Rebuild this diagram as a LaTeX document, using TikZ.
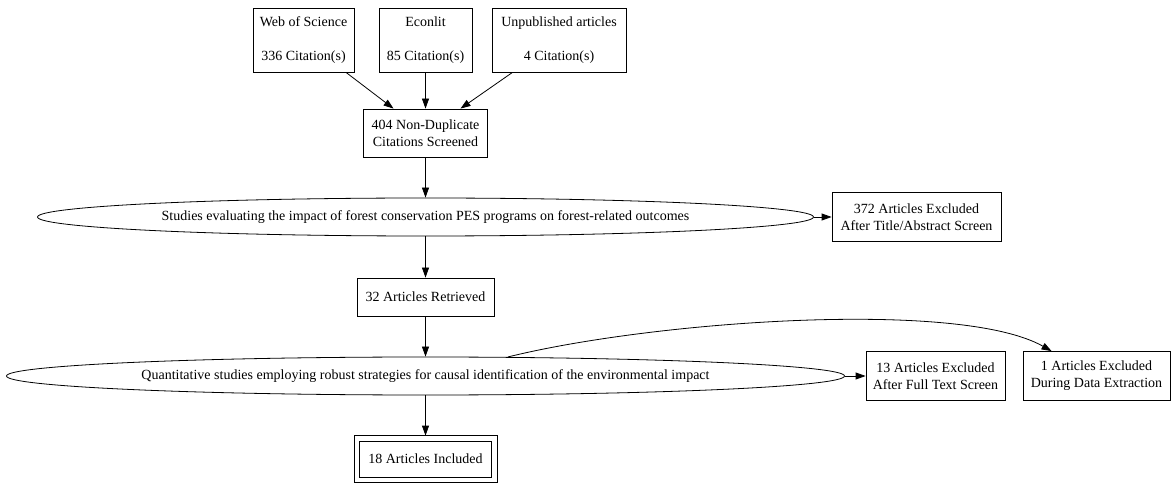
\documentclass[tikz,border=0pt]{standalone}
\usepackage{fontspec}
\setmainfont{Liberation Serif}
\usetikzlibrary{arrows.meta,shapes.geometric}

\begin{document}
\begin{tikzpicture}[x=1pt,y=1pt,
    font=\fontsize{14}{16.8}\selectfont,
    box/.style={rectangle,draw,line width=0.8pt,align=center,inner sep=0pt,minimum height=36pt},
    oval/.style={ellipse,draw,line width=0.8pt,inner sep=0pt,minimum height=38pt},
    arr/.style={line width=0.8pt,-{Triangle[length=10pt,width=7pt]}}]
  \useasboundingbox (0,0) rectangle (1172,482);

  \node[box,minimum width=101pt,minimum height=64pt](wos) at (303.5,442){Web of Science\\[16.8pt]336 Citation(s)};
  \node[box,minimum width=93pt,minimum height=64pt](econ) at (425.5,442){Econlit\\[16.8pt]85 Citation(s)};
  \node[box,minimum width=134pt,minimum height=64pt](unpub) at (559,442){Unpublished articles\\[16.8pt]4 Citation(s)};
  \node[box,minimum width=124pt,minimum height=48pt](dedup) at (425.5,349){404 Non-Duplicate\\Citations Screened};
  \node[oval,minimum width=776pt](s1) at (425.5,265){Studies evaluating the impact of forest conservation PES programs on forest-related outcomes};
  \node[box,minimum width=169pt,minimum height=49pt](x1) at (916.5,265){372 Articles Excluded\\After Title/Abstract Screen};
  \node[box,minimum width=137pt,minimum height=38pt](ret) at (425.5,185){32 Articles Retrieved};
  \node[oval,minimum width=838pt](s2) at (425.5,106){Quantitative studies employing robust strategies for causal identification of the environmental impact};
  \node[box,minimum width=139pt,minimum height=49pt](x2) at (935.5,106){13 Articles Excluded\\After Full Text Screen};
  \node[box,minimum width=147pt,minimum height=49pt](x3) at (1096.5,106){1 Articles Excluded\\During Data Extraction};
  \node[box,minimum width=132pt,minimum height=36pt](inc) at (425.5,23){18 Articles Included};
  \draw[line width=0.8pt] ([shift={(-5,-5)}]inc.south west) rectangle ([shift={(5,5)}]inc.north east);

  \draw[arr] (wos) -- (dedup);
  \draw[arr] (econ) -- (dedup);
  \draw[arr] (unpub) -- (dedup);
  \draw[arr] (dedup) -- (s1);
  \draw[arr] (s1) -- (x1);
  \draw[arr] (s1) -- (ret);
  \draw[arr] (ret) -- (s2);
  \draw[arr] (s2) -- (x2);
  \draw[arr] (s2.13.3) .. controls +(145,36) and +(-92,52) .. (x3.151);
  \draw[arr] (s2) -- ([yshift=5pt]inc.north);
\end{tikzpicture}
\end{document}
